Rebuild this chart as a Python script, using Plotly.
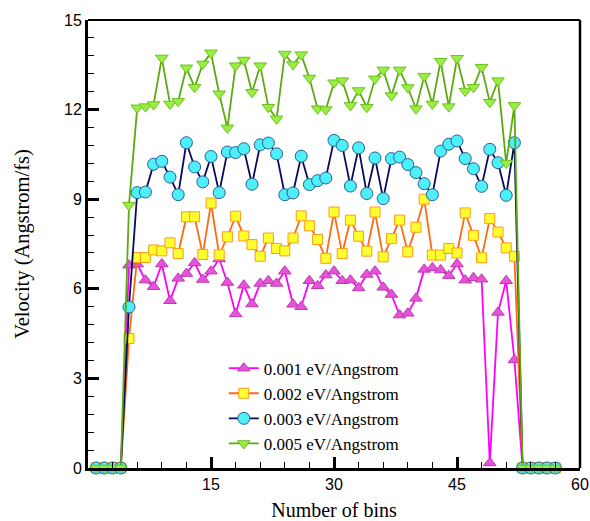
import plotly.graph_objects as go

bins = list(range(1, 58))

lead_zeros = [0, 0, 0, 0]
tail_zeros = [0, 0, 0, 0, 0]

v001_mid = [6.79, 6.83, 6.29, 6.07, 6.83, 5.60, 6.35, 6.51, 6.87, 6.31, 6.59, 7.00,
            6.21, 5.16, 6.12, 5.49, 6.18, 6.27, 6.18, 6.59, 5.48, 5.40, 6.27, 6.10,
            6.46, 6.59, 6.27, 6.29, 6.03, 6.48, 6.59, 6.05, 5.81, 5.12, 5.18, 5.68,
            6.65, 6.70, 6.63, 6.44, 6.83, 6.29, 6.37, 6.32, 0.17, 5.21, 6.27, 3.62]
v002_mid = [4.34, 7.05, 7.05, 7.30, 7.27, 7.54, 7.18, 8.41, 8.41, 7.15, 8.87, 7.14,
            7.74, 8.43, 7.77, 7.48, 7.09, 7.70, 7.35, 7.27, 7.70, 8.44, 8.11, 7.65,
            7.02, 8.57, 7.18, 8.30, 7.76, 7.26, 8.57, 7.07, 7.68, 8.30, 7.24, 8.06,
            9.00, 7.13, 7.13, 7.35, 7.20, 8.54, 7.79, 7.04, 8.35, 7.90, 7.37, 7.09]
v003_mid = [5.39, 9.22, 9.24, 10.17, 10.27, 9.74, 9.15, 10.89, 10.08, 9.58, 10.43, 9.22,
            10.58, 10.56, 10.69, 9.50, 10.82, 10.88, 10.52, 9.15, 9.21, 10.44, 9.49, 9.62,
            9.71, 10.97, 10.80, 9.44, 10.72, 9.19, 10.38, 9.02, 10.36, 10.41, 10.16, 9.89,
            9.52, 9.15, 10.61, 10.84, 10.95, 10.36, 10.02, 9.43, 10.67, 10.22, 9.13, 10.89]
v005_mid = [8.80, 12.06, 12.10, 12.17, 13.73, 12.19, 12.28, 13.40, 12.75, 13.53, 13.90, 12.53,
            11.39, 13.47, 13.66, 12.58, 13.47, 12.08, 11.69, 13.86, 13.51, 13.84, 13.06, 12.03,
            12.00, 12.90, 12.97, 12.14, 12.64, 12.08, 13.03, 13.33, 12.47, 13.33, 12.74, 12.03,
            13.12, 12.19, 13.62, 12.10, 13.72, 12.62, 12.75, 13.42, 12.25, 12.97, 10.21, 12.14]

v001 = lead_zeros + v001_mid + tail_zeros
v002 = lead_zeros + v002_mid + tail_zeros
v003 = lead_zeros + v003_mid + tail_zeros
v005 = lead_zeros + v005_mid + tail_zeros

names = ["0.001 eV/Angstrom", "0.002 eV/Angstrom", "0.003 eV/Angstrom", "0.005 eV/Angstrom"]
x_ticks = [15, 30, 45, 60]
y_ticks = [0, 3, 6, 9, 12, 15]

series = [
    (v001, names[0], "#FF00FF", "triangle-up", 11, "#E653D8", "#C03AB0"),
    (v002, names[1], "#FF6A10", "square", 10, "#FFFF30", "#FF9A1A"),
    (v003, names[2], "#0A0A5C", "circle", 12, "#4DEFF8", "#2D5E98"),
    (v005, names[3], "#5AAA10", "triangle-down", 11, "#99EE44", "#6FC020"),
]

fig = go.Figure()
for ys, nm, lc, sym, sz, fc, bc in series:
    fig.add_trace(go.Scatter(
        x=bins, y=ys, name=nm, mode="lines+markers",
        line=dict(color=lc, width=1.8),
        marker=dict(symbol=sym, size=sz, color=fc, line=dict(color=bc, width=1)),
        cliponaxis=False,
    ))

sans = "Liberation Sans, Arial, sans-serif"
serif = "Liberation Serif, Times New Roman, serif"

fig.update_layout(
    width=590, height=521,
    margin=dict(l=88, r=10, t=20, b=53, pad=0),
    paper_bgcolor="white", plot_bgcolor="white",
    showlegend=True,
    legend=dict(
        x=0.276, y=0.262, xanchor="left", yanchor="top",
        bgcolor="rgba(0,0,0,0)", borderwidth=0,
        font=dict(family=serif, size=17, color="black"),
        tracegroupgap=0, itemwidth=30,
    ),
    xaxis=dict(
        range=[0, 60], tickvals=x_ticks, ticktext=[str(v) for v in x_ticks],
        ticks="inside", ticklen=11, tickwidth=3, tickcolor="black",
        minor=dict(dtick=3, tick0=0, ticks="inside", ticklen=6, tickwidth=1.2, tickcolor="black"),
        showline=True, linewidth=3, linecolor="black", mirror=False,
        showgrid=False, zeroline=False, automargin=False,
        tickfont=dict(family=sans, size=16, color="black"),
        title=dict(text="Number of bins", font=dict(family=serif, size=20, color="black"), standoff=12),
    ),
    yaxis=dict(
        range=[0, 15], tickvals=y_ticks, ticktext=[str(v) for v in y_ticks],
        ticks="inside", ticklen=11, tickwidth=3, tickcolor="black",
        minor=dict(dtick=0.6, tick0=0, ticks="inside", ticklen=6, tickwidth=1.2, tickcolor="black"),
        showline=True, linewidth=3, linecolor="black", mirror=False,
        showgrid=False, zeroline=False, automargin=False,
        tickfont=dict(family=sans, size=16, color="black"),
        title=dict(text="Velocity (Angstrom/fs)", font=dict(family=serif, size=20.5, color="black"), standoff=29),
    ),
    shapes=[
        dict(type="line", xref="paper", yref="paper", x0=0, x1=1, y0=1, y1=1,
             line=dict(color="black", width=2)),
        dict(type="line", xref="paper", yref="paper", x0=1, x1=1, y0=0, y1=1,
             line=dict(color="black", width=2.5)),
    ],
)

fig.write_html("out.html")
